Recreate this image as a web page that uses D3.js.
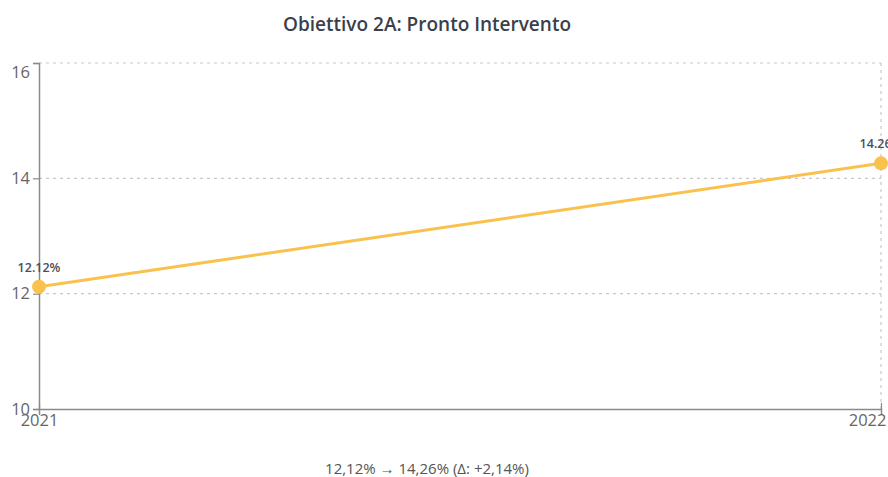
<!DOCTYPE html>
<html>
<head>
<meta charset="utf-8">
<script src="https://cdn.jsdelivr.net/npm/d3@7"></script>
<style>
  body { margin: 0; background: #fff; font-family: "Open Sans", sans-serif; }
  svg { display: block; }
</style>
</head>
<body>
<script>
// data
let years = ["2021", "2022"];
let values = [12.12, 14.26];
let yTicks = [10, 12, 14, 16];
let title = "Obiettivo 2A: Pronto Intervento";
let note = "12,12% \u2192 14,26% (\u0394: +2,14%)";

let W = 888, H = 477;
let margin = {top: 63, right: 7, bottom: 68, left: 39};
let width = W - margin.left - margin.right;
let height = H - margin.top - margin.bottom;

let svg = d3.select("body").append("svg")
    .attr("width", W)
    .attr("height", H);

// title
svg.append("text")
    .attr("x", 427).attr("y", 31)
    .attr("text-anchor", "middle")
    .attr("font-size", 19).attr("font-weight", 600)
    .attr("fill", "#3a3f4b")
    .text(title);

let g = svg.append("g")
    .attr("transform", "translate(" + margin.left + "," + margin.top + ")");

let x = d3.scalePoint().domain(years).range([0, width]);
let y = d3.scaleLinear().domain([10, 16]).range([height, 0]);

// dotted grid
g.selectAll(".hgrid").data(yTicks.slice(1)).enter().append("line")
    .attr("x1", 0).attr("x2", width)
    .attr("y1", d => y(d)).attr("y2", d => y(d))
    .attr("stroke", "#c8c8c8").attr("stroke-width", 1.2)
    .attr("stroke-dasharray", "3,4");
g.selectAll(".vgrid").data(years.slice(1)).enter().append("line")
    .attr("x1", d => x(d)).attr("x2", d => x(d))
    .attr("y1", 0).attr("y2", height)
    .attr("stroke", "#c8c8c8").attr("stroke-width", 1.2)
    .attr("stroke-dasharray", "3,4");

// y axis
let yAxis = g.append("g")
    .call(d3.axisLeft(y).tickValues(yTicks).tickFormat(d3.format("d")).tickSize(6).tickPadding(3));
yAxis.select(".domain").attr("stroke", "#8a8a8a").attr("stroke-width", 1.5);
yAxis.selectAll(".tick line").attr("stroke", "#8a8a8a").attr("stroke-width", 1.2);
yAxis.selectAll(".tick text")
    .attr("font-size", 16.5).attr("fill", "#666")
    .attr("font-family", "Open Sans, sans-serif")
    .attr("dy", d => d === 16 ? "0.85em" : "0.32em");

// x axis
let xAxis = g.append("g")
    .attr("transform", "translate(0," + height + ")")
    .call(d3.axisBottom(x).tickSize(6).tickPadding(-1));
xAxis.select(".domain").attr("stroke", "#8a8a8a").attr("stroke-width", 1.5);
xAxis.selectAll(".tick line").attr("stroke", "#8a8a8a").attr("stroke-width", 1.2)
    .attr("y2", -6);
xAxis.selectAll(".tick text")
    .attr("font-size", 16.5).attr("fill", "#666")
    .attr("font-family", "Open Sans, sans-serif")
    .attr("text-anchor", (d, i) => i === years.length - 1 ? "end" : "middle")
    .attr("dx", (d, i) => i === years.length - 1 ? 5 : 0);

// line
let line = d3.line()
    .x((d, i) => x(years[i]))
    .y(d => y(d));

g.append("path")
    .datum(values)
    .attr("fill", "none")
    .attr("stroke", "#f9c24e")
    .attr("stroke-width", 3)
    .attr("d", line);

g.selectAll(".pt").data(values).enter().append("circle")
    .attr("cx", (d, i) => x(years[i]))
    .attr("cy", d => y(d))
    .attr("r", 7)
    .attr("fill", "#f9c24e");

g.selectAll(".lbl").data(values).enter().append("text")
    .attr("x", (d, i) => x(years[i]))
    .attr("y", d => y(d) - 15)
    .attr("text-anchor", "middle")
    .attr("font-size", 12.5).attr("font-weight", 600)
    .attr("fill", "#4a4f5a")
    .text(d => d.toFixed(2) + "%");

// footer note
svg.append("text")
    .attr("x", 427).attr("y", 474)
    .attr("text-anchor", "middle")
    .attr("font-size", 15).attr("fill", "#555")
    .text(note);
</script>
</body>
</html>
